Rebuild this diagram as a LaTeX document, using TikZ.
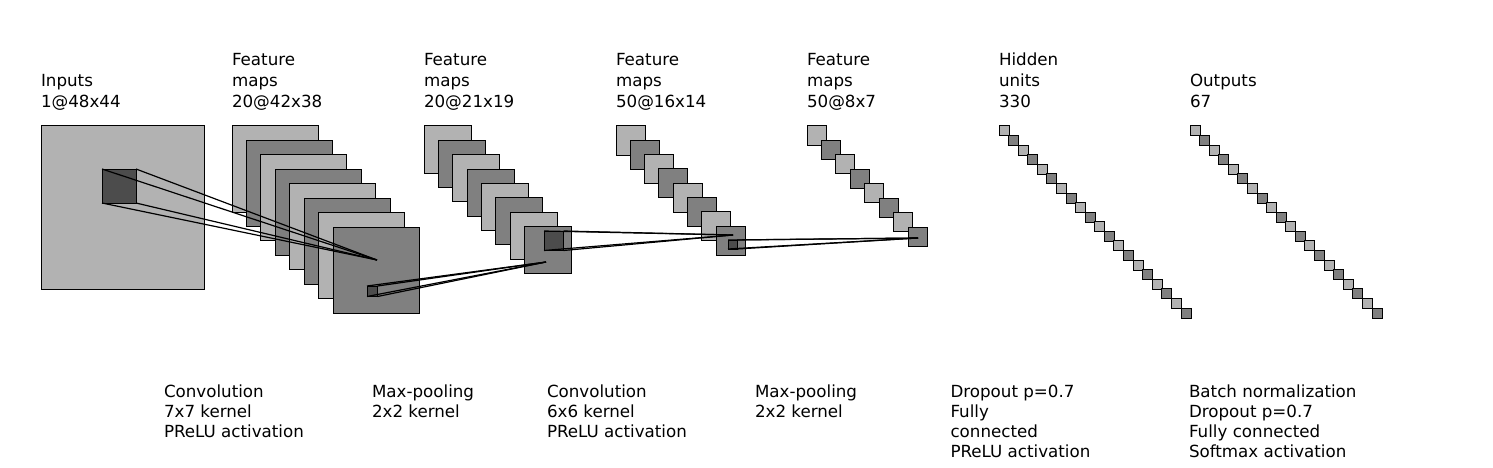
\documentclass[tikz,border=0pt]{standalone}
\usepackage{fontspec}
\setmainfont{DejaVu Sans}
\definecolor{lightg}{gray}{0.7}
\definecolor{darkg}{gray}{0.5}
\definecolor{patchg}{gray}{0.3}
\newcommand\mytoplbl[1]{\begin{tabular}[b]{@{}l@{}}#1\end{tabular}}
\newcommand\mybotlbl[1]{\begin{tabular}[t]{@{}l@{}}#1\end{tabular}}
\tikzset{
  fm/.style={draw=black, line width=1pt, inner sep=0pt, outer sep=0pt, anchor=north west, minimum size=#1},
  conn/.style={draw=black, line width=1.2pt},
  toplab/.style={anchor=base west, inner sep=0pt, outer sep=0pt, font=\fontsize{16.7}{21}\selectfont},
  botlab/.style={anchor=base west, inner sep=0pt, outer sep=0pt, font=\fontsize{16.7}{20}\selectfont},
}
\begin{document}
\begin{tikzpicture}[x=1pt,y=-1pt]
\useasboundingbox (0,0) rectangle (1493,468);
% input
\node[fm=163, fill=lightg] (in) at (41,126) {};
% feature map stacks
\foreach \lx/\sz/\n/\st/\nm in {232/86/7/14.43/a, 424/47/7/14.36/b, 616/29/7/14.29/c, 807/19/7/14.43/d, 999/10/19/9.58/h, 1190/10/19/9.58/o}{
  \foreach \i in {0,...,\n}{
    \ifodd\i\def\fc{darkg}\else\def\fc{lightg}\fi
    \node[fm=\sz, fill=\fc] (\nm\i) at ({\lx+\i*\st},{126+\i*\st}) {};
  }
}
% kernel patches
\node[fm=34, fill=patchg] (p0) at (102,169) {};
\node[fm=10.5, fill=patchg] (p1) at (367,286) {};
\node[fm=19.5, fill=patchg] (p2) at (544,231) {};
\node[fm=9, fill=patchg] (p3) at (728,240) {};
% targets
\coordinate (e1) at (377,260);
\coordinate (e2) at (546,262);
\coordinate (e3) at (733,235);
\coordinate (e4) at (918,238);
% mappings
\foreach \p/\e in {p0/e1, p1/e2, p2/e3, p3/e4}{
  \draw[conn] (\p.north west) -- (\e);
  \draw[conn] (\p.north east) -- (\e);
  \draw[conn] (\p.south west) -- (\e);
  \draw[conn] (\p.south east) -- (\e);
}
% top labels
\node[toplab] (t0) at (41,108) {\mytoplbl{Inputs\\1@48x44}};
\node[toplab] (t1) at (232,108) {\mytoplbl{Feature\\maps\\20@42x38}};
\node[toplab] (t2) at (424,108) {\mytoplbl{Feature\\maps\\20@21x19}};
\node[toplab] (t3) at (616,108) {\mytoplbl{Feature\\maps\\50@16x14}};
\node[toplab] (t4) at (807,108) {\mytoplbl{Feature\\maps\\50@8x7}};
\node[toplab] (t5) at (999,108) {\mytoplbl{Hidden\\units\\330}};
\node[toplab] (t6) at (1190,108) {\mytoplbl{Outputs\\67}};
% bottom labels
\node[botlab] (b0) at (164,397) {\mybotlbl{Convolution\\7x7 kernel\\PReLU activation}};
\node[botlab] (b1) at (372,397) {\mybotlbl{Max-pooling\\2x2 kernel}};
\node[botlab] (b2) at (547,397) {\mybotlbl{Convolution\\6x6 kernel\\PReLU activation}};
\node[botlab] (b3) at (755,397) {\mybotlbl{Max-pooling\\2x2 kernel}};
\node[botlab] (b4) at (950.5,397) {\mybotlbl{Dropout p=0.7\\Fully\\connected\\PReLU activation}};
\node[botlab] (b5) at (1189,397) {\mybotlbl{Batch normalization\\Dropout p=0.7\\Fully connected\\Softmax activation}};
\end{tikzpicture}
\end{document}
